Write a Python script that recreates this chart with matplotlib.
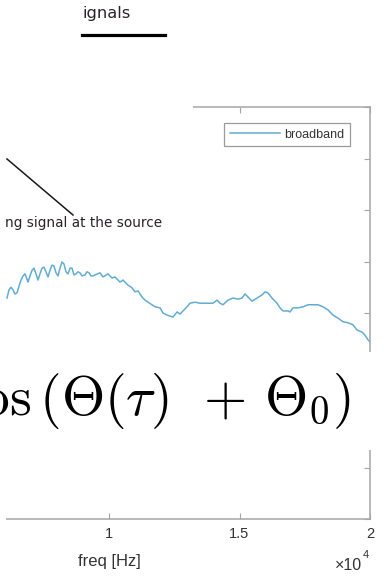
import matplotlib
matplotlib.use("Agg")
import matplotlib.pyplot as plt
from matplotlib.patches import Rectangle
from matplotlib.lines import Line2D

plt.rcParams['font.family'] = ['Liberation Sans', 'DejaVu Sans']
plt.rcParams['mathtext.fontset'] = 'cm'

# ---------------- data ----------------
freq_hz = [6092, 6169, 6245, 6322, 6398, 6475, 6552, 6628, 6705, 6782, 6858, 6897,
           6973, 7050, 7126, 7203, 7280, 7356, 7433, 7510, 7586, 7663, 7739, 7816,
           7893, 7969, 8046, 8123, 8199, 8276, 8352, 8429, 8506, 8582, 8659, 8736,
           8812, 8889, 8965, 9080, 9157, 9234, 9310, 9387, 9464,
           9655, 9770, 9962, 10115, 10230, 10421, 10536, 10728, 10881, 10996, 11111,
           11265, 11379, 11494, 11648, 11763, 11954, 12069, 12223, 12338, 12453,
           12606, 12721, 12836, 12989, 13103, 13295, 13487, 13755, 13985, 14138,
           14253, 14368, 14560, 14751, 14943, 15096, 15211, 15326, 15479, 15671,
           15862, 15977, 16092, 16245, 16437, 16552, 16667, 16858, 16935, 17050,
           17242, 17433, 17625, 17816, 18008, 18199, 18391, 18582, 18774, 18966,
           19157, 19349, 19502, 19693, 19808, 19923, 20000]
level_db = [-37.1, -35.5, -35.0, -35.5, -36.3, -36.1, -34.8, -33.6, -32.8, -32.4, -33.4, -34.0,
            -32.8, -31.7, -31.3, -32.4, -33.6, -32.4, -31.3, -31.1, -32.0, -33.0, -31.7, -30.7,
            -30.9, -32.2, -32.8, -31.3, -30.1, -30.5, -32.0, -32.4, -31.3, -31.3, -32.6, -32.4,
            -32.0, -32.2, -32.8, -32.6, -32.0, -32.2, -32.8, -32.8, -32.6,
            -32.2, -33.0, -32.4, -33.2, -33.0, -34.0, -33.6, -34.6, -35.1, -35.9, -35.7,
            -36.9, -37.5, -37.9, -38.4, -38.8, -39.0, -40.0, -40.4, -40.6, -40.8,
            -39.8, -40.2, -39.6, -38.8, -38.1, -37.9, -38.1, -38.1, -38.1, -37.5,
            -38.1, -38.4, -37.5, -37.1, -37.3, -37.1, -36.3, -36.9, -37.7, -37.1,
            -36.5, -35.9, -36.1, -37.1, -38.1, -39.0, -39.6, -39.6, -39.8, -39.0,
            -39.0, -38.8, -38.4, -38.4, -38.4, -38.8, -39.4, -40.4, -41.0, -41.7,
            -41.9, -42.3, -43.3, -43.7, -44.3, -45.2, -45.6]
series_name = "broadband"
xtick_values = [10000, 15000, 20000]
xtick_labels = ["1", "1.5", "2"]
ytick_values = [-80, -70, -60, -50, -40, -30, -20, -10, 0]
x_label = "freq [Hz]"
annotation_text = "ng signal at the source"
title_text = "ignals"
formula = r"$\cos\left(\Theta(\tau)\;\,+\,\Theta_0\right)$"

W, H = 385, 577
fig = plt.figure(figsize=(W / 100, H / 100), dpi=100)
fig.patch.set_facecolor("white")

def fx(px):
    return px / W

def fy(py):
    return 1 - py / H

ax = fig.add_axes([fx(-152), fy(519), 522 / W, 412 / H])
line_color = "#62acd3"
ax.plot(freq_hz, level_db, color=line_color, lw=1.1, label=series_name)
ax.set_xlim(0, 20000)
ax.set_ylim(-80, 0)
ax.set_xticks(xtick_values)
ax.set_xticklabels(xtick_labels)
ax.set_yticks(ytick_values)
ax.set_yticklabels([])
spine_c = "#a6a6a6"
for s in ax.spines.values():
    s.set_color(spine_c)
    s.set_linewidth(1.1)
ax.tick_params(direction="in", top=True, right=True, left=False, length=4,
               color=spine_c, labelcolor="#333333", labelsize=10.5, pad=6)
ax.set_xlabel(x_label, fontsize=12, color="#333333", labelpad=9)

leg = ax.legend(loc="upper right", bbox_to_anchor=((350 + 152) / 522, 1 - 16 / 412),
                borderaxespad=0, fontsize=9, handlelength=4.0, handletextpad=0.35,
                borderpad=0.45, fancybox=False, framealpha=1, edgecolor="#9a9a9a")
leg.get_frame().set_linewidth(0.9)
for t in leg.get_texts():
    t.set_color("#333333")

# white overlays (slide elements covering the axes)
fig.patches.append(Rectangle((0, fy(450)), 1, 98 / H, transform=fig.transFigure,
                             facecolor="white", edgecolor="none", zorder=5))
fig.patches.append(Rectangle((0, fy(116)), fx(193), 22 / H, transform=fig.transFigure,
                             facecolor="white", edgecolor="none", zorder=5))
fig.patches.append(Rectangle((0, 0), fx(6), fy(100), transform=fig.transFigure,
                             facecolor="white", edgecolor="none", zorder=5))

# formula
fig.text(fx(351), fy(415), formula, fontsize=40, ha="right", va="baseline",
         color="black", zorder=10)

# exponent label
fig.text(fx(362), fy(570), "×10", fontsize=11.5, ha="right", va="baseline",
         color="#333333", zorder=10)
fig.text(fx(362.5), fy(558), "4", fontsize=8, ha="left", va="baseline",
         color="#333333", zorder=10)

# annotation
fig.lines.append(Line2D([fx(7), fx(73)], [fy(159), fy(215)], transform=fig.transFigure,
                        color="#1a1a1a", lw=1.1, zorder=10))
fig.text(fx(5), fy(227), annotation_text, fontsize=9.8, family="DejaVu Sans",
         ha="left", va="baseline", color="#2a2228", zorder=10)

# slide title fragment + underline
fig.text(fx(82), fy(18), title_text, fontsize=11.7, family="DejaVu Sans",
         ha="left", va="baseline", color="#2a2228", zorder=10)
fig.lines.append(Line2D([fx(82), fx(165)], [fy(35), fy(35)], transform=fig.transFigure,
                        color="black", lw=2.3, zorder=10))

fig.savefig("out.png", dpi=100, facecolor="white")
